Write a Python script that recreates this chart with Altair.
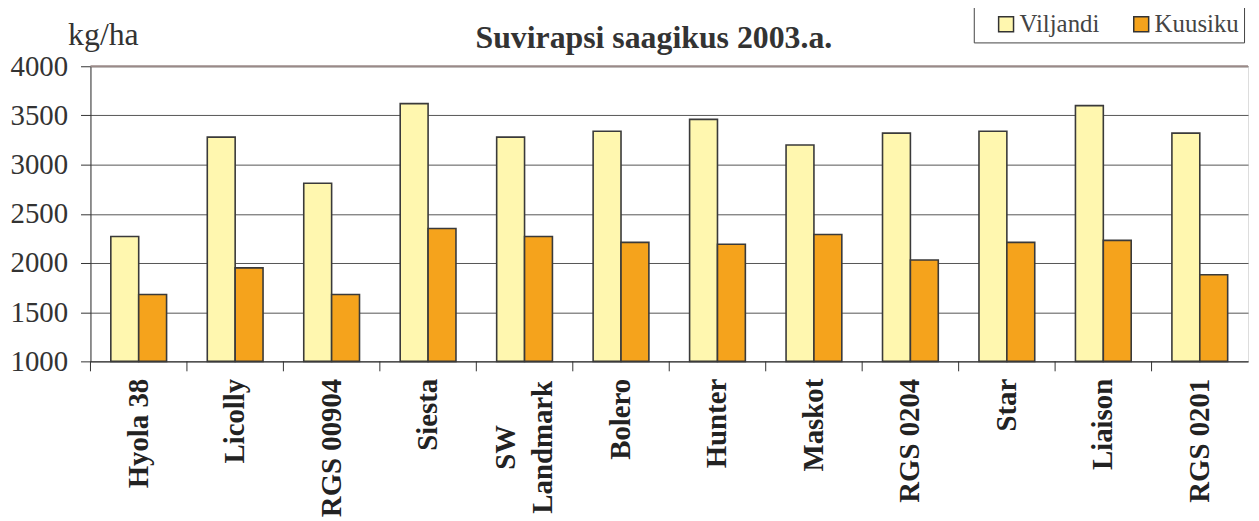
import altair as alt
import pandas as pd

title_text = "Suvirapsi saagikus 2003.a."
categories = ["Hyola 38", "Licolly", "RGS 00904", "Siesta", "SW Landmark", "Bolero",
              "Hunter", "Maskot", "RGS 0204", "Star", "Liaison", "RGS 0201"]
viljandi = [2270, 3280, 2810, 3620, 3280, 3340, 3460, 3200, 3320, 3340, 3600, 3320]
kuusiku = [1680, 1950, 1680, 2350, 2270, 2210, 2190, 2290, 2030, 2210, 2230, 1880]
series = ["Viljandi", "Kuusiku"]
colors = ["#FFF7AF", "#F5A31C"]
y_ticks = [1000, 1500, 2000, 2500, 3000, 3500, 4000]

rows = []
for c, v, k in zip(categories, viljandi, kuusiku):
    rows.append({"cat": c, "series": "Viljandi", "value": v})
    rows.append({"cat": c, "series": "Kuusiku", "value": k})
df = pd.DataFrame(rows)
tick_df = pd.DataFrame({"cat": categories})
top_df = pd.DataFrame({"v": [4000]})
title_df = pd.DataFrame({"t": [title_text]})

W, H = 1165, 297
serif = "Liberation Serif"
two_line = "datum.value == 'SW Landmark'"
nbsp = "\u00a0"

xscale = alt.Scale(domain=categories, paddingInner=0, paddingOuter=0)

bars = alt.Chart(df).mark_bar(stroke="#3a3a3a", strokeWidth=1.6).encode(
    x=alt.X("cat:N", scale=xscale, sort=categories, title=None,
            axis=alt.Axis(labelAngle=270, ticks=False, labelFont=serif,
                          labelFontWeight="bold", labelFontSize=29, labelColor="#222",
                          labelPadding=alt.condition(two_line, alt.value(86), alt.value(17)),
                          labelAlign=alt.condition(two_line, alt.value("center"), alt.value("right")),
                          labelOffset=alt.condition(two_line, alt.value(-19), alt.value(0)),
                          domainColor="#333", labelLimit=0,
                          labelLineHeight=38, grid=False,
                          labelExpr="datum.label == 'SW Landmark' ? ['SW', 'Landmark'] : datum.label")),
    xOffset=alt.XOffset("series:N", sort=series,
                        scale=alt.Scale(domain=series, paddingInner=0, paddingOuter=0.73)),
    y=alt.Y("value:Q", scale=alt.Scale(domain=[1000, 4000], nice=False, zero=False),
            axis=alt.Axis(values=y_ticks, format="d", title="kg/ha", titleAngle=0,
                          titleX=-23, titleY=-22,
                          titleAlign="left", titleBaseline="alphabetic", titleFont=serif,
                          titleFontSize=32, titleFontWeight="normal", titleColor="#333",
                          labelFont=serif, labelFontSize=29, labelColor="#333",
                          labelPadding=13, tickSize=10, tickColor="#333", domainColor="#333",
                          gridColor="#555", gridWidth=1)),
    y2=alt.datum(1000),
    color=alt.Color("series:N", sort=series,
                    scale=alt.Scale(domain=series, range=colors),
                    legend=alt.Legend(title=None, orient="none", legendX=889, legendY=-60,
                                      direction="horizontal", symbolType="square",
                                      symbolSize=225, symbolStrokeColor="#333",
                                      symbolStrokeWidth=1.5, labelFont=serif, labelFontSize=25,
                                      labelColor="#444", strokeColor="#444", padding=5,
                                      symbolOffset=15, columnPadding=14, labelOffset=1,
                                      labelExpr="datum.label == 'Kuusiku' ? datum.label + '" + nbsp + nbsp + "' : datum.label",
                                      fillColor="white")),
)

ticks = alt.Chart(tick_df).mark_rule(color="#333", strokeWidth=1).encode(
    x=alt.X("cat:N", bandPosition=0, sort=categories, scale=xscale),
    y=alt.value(H),
    y2=alt.value(H + 10),
)

top_line = alt.Chart(top_df).mark_rule(color="#9a8a88", strokeWidth=2).encode(
    y=alt.Y("v:Q"),
)

title = alt.Chart(title_df).mark_text(font=serif, fontSize=32, fontWeight="bold",
                                      color="#333", align="center",
                                      baseline="alphabetic").encode(
    text="t:N",
    x=alt.value(567),
    y=alt.value(-18),
)

chart = alt.layer(bars, ticks, top_line, title).properties(
    width=W, height=H,
    padding={"left": 83, "top": 57, "right": 3, "bottom": 156},
    autosize=alt.AutoSizeParams(type="none"),
).configure_view(stroke="#aaa").configure(font=serif)

chart.save("out.html", embed_options={"renderer": "svg", "actions": False})
